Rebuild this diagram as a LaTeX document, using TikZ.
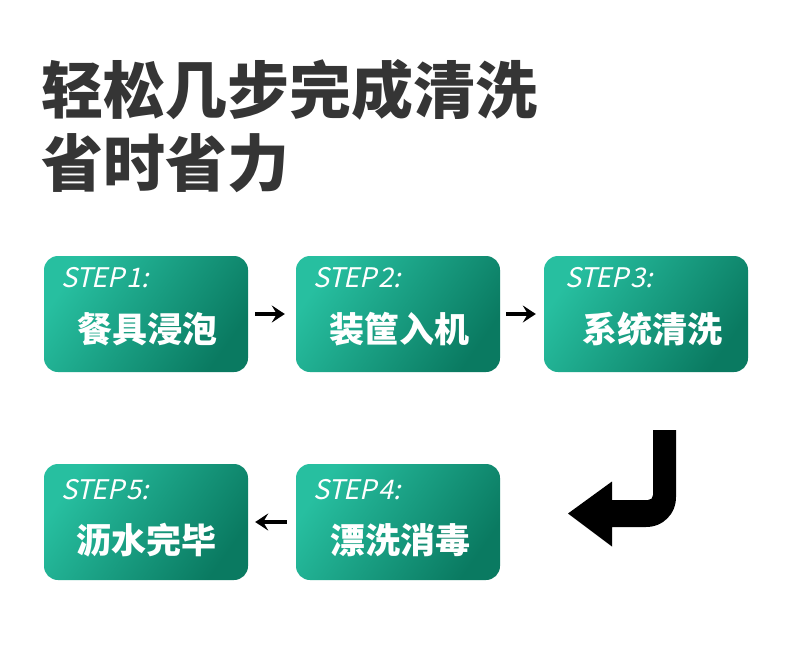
\documentclass[tikz,border=0pt]{standalone}
\usepackage{fontspec}
\usetikzlibrary{arrows.meta}
\newfontfamily\cjk{Noto Sans CJK SC}
\newfontfamily\stepfont{Noto Sans CJK SC}[FakeSlant=0.22, WordSpace=0.45, LetterSpace=-2]
\definecolor{titlegray}{HTML}{353535}
\definecolor{greenlight}{HTML}{27BFA0}
\definecolor{greendark}{HTML}{0A7A61}
\tikzset{
  stepbox/.style={rounded corners=14pt, minimum width=204pt, minimum height=116pt,
    inner sep=0pt, top color=greenlight, bottom color=greendark, shading angle=55},
  steplabel/.style={anchor=base west, inner sep=0pt, text=white,
    font=\stepfont\fontsize{27}{27}\selectfont},
  stepcn/.style={anchor=base, inner sep=0pt, text=white,
    font=\cjk\bfseries\fontsize{35}{35}\selectfont},
  titletext/.style={anchor=base west, inner sep=0pt, text=titlegray,
    font=\cjk\bfseries\fontsize{62}{62}\selectfont},
  flowarrow/.style={line width=3.3pt, -{Stealth[length=13pt,width=17pt,inset=5pt]}},
}
\begin{document}
\begin{tikzpicture}[x=1pt,y=-1pt]
\useasboundingbox (0,0) rectangle (790,667);
\fill[white] (0,0) rectangle (790,667);
% title
\node[titletext] (t1) at (41,113.5) {轻松几步完成清洗};
\node[titletext] (t2) at (41,186.5) {省时省力};
% boxes
\node[stepbox] (b1) at (146,314) {};
\node[stepbox] (b2) at (398,314) {};
\node[stepbox] (b3) at (646,314) {};
\node[stepbox] (b4) at (398,522) {};
\node[stepbox] (b5) at (146,522) {};
% labels
\node[steplabel] (s1) at (61,287) {STEP 1:};
\node[steplabel] (s2) at (313,287) {STEP 2:};
\node[steplabel] (s3) at (565,287) {STEP 3:};
\node[steplabel] (s4) at (313,499) {STEP 4:};
\node[steplabel] (s5) at (61,499) {STEP 5:};
\node[stepcn] (c1) at (147,342) {餐具浸泡};
\node[stepcn] (c2) at (399,342) {装筐入机};
\node[stepcn] (c3) at (652,342) {系统清洗};
\node[stepcn] (c4) at (400,553) {漂洗消毒};
\node[stepcn] (c5) at (146,553) {沥水完毕};
% small arrows
\draw[flowarrow, shorten <=7pt, shorten >=11pt] (b1.east) -- (b2.west);
\draw[flowarrow, shorten <=6pt, shorten >=8pt] (b2.east) -- (b3.west);
\draw[flowarrow, shorten <=9pt, shorten >=7pt] (b4.west) -- (b5.east);
% big bent arrow
\fill[black] (653,430) -- (676,430) -- (676,497)
  .. controls (676,514) and (663,527) .. (646,527)
  -- (612,527) -- (612,546.5) -- (568,513.5) -- (612,481.5) -- (612,500)
  -- (648,500) .. controls (651,500) and (653,498) .. (653,495) -- cycle;
\end{tikzpicture}
\end{document}
